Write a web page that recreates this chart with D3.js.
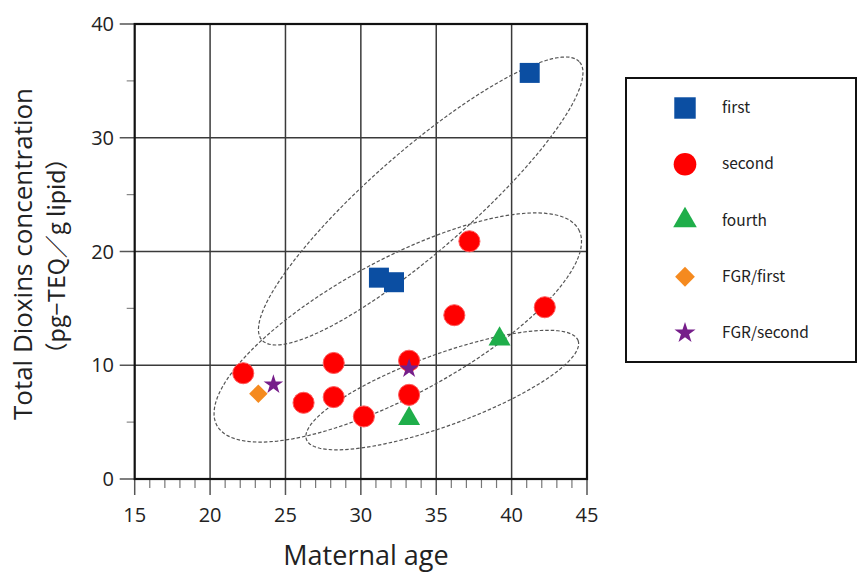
<!DOCTYPE html>
<html>
<head>
<meta charset="utf-8">
<script src="https://cdn.jsdelivr.net/npm/d3@7"></script>
<style>
  body { margin: 0; background: #fff; }
  svg { display: block; }
</style>
</head>
<body>
<div id="chart"></div>
<script>
// parity groups, [maternal age, total dioxins]
const first = [[41.2, 35.7], [31.2, 17.7], [32.2, 17.3]];
const second = [[22.2, 9.3], [26.2, 6.7], [28.2, 10.2], [28.2, 7.2], [30.2, 5.5],
                [33.2, 10.4], [33.2, 7.4], [36.2, 14.4], [37.2, 20.9], [42.2, 15.1]];
const fourth = [[39.2, 12.3], [33.2, 5.3]];
const fgrFirst = [[23.2, 7.5]];
const fgrSecond = [[24.2, 8.3], [33.2, 9.7]];

const seriesNames = ["first", "second", "fourth", "FGR/first", "FGR/second"];
const xTicks = [15, 20, 25, 30, 35, 40, 45];
const yTicks = [0, 10, 20, 30, 40];

// dashed group ellipses: centre, major semi-axis vector (data units), minor/major ratio
const ellipses = [
  {cx: 33.97, cy: 24.44, ax: 10.54, ay: 12.22, ratio: 0.237},
  {cx: 32.45, cy: 13.32, ax: 12.0, ay: 8.61, ratio: 0.329},
  {cx: 35.4, cy: 7.82, ax: 9.01, ay: 4.35, ratio: 0.247}
];

const W = 858, H = 574;
const pL = 134.7, pR = 587, pT = 24, pB = 479;

const svg = d3.select("#chart").append("svg")
    .attr("width", W)
    .attr("height", H);

const x = d3.scaleLinear().domain([15, 45]).range([pL, pR]);
const y = d3.scaleLinear().domain([0, 40]).range([pB, pT]);

const styles = [
  {data: first, type: d3.symbolSquare, size: 400, fill: "#0b4ea2", rot: 0},
  {data: second, type: d3.symbolCircle, size: 350, fill: "#ff0000", rot: 0},
  {data: fourth, type: d3.symbolTriangle, size: 210, fill: "#1fae4a", rot: 0},
  {data: fgrFirst, type: d3.symbolSquare, size: 170, fill: "#f58a1f", rot: 45},
  {data: fgrSecond, type: d3.symbolStar, size: 120, fill: "#761e8a", rot: 0}
];

// grid
svg.append("g").selectAll("line")
  .data(xTicks.slice(1, -1))
  .enter().append("line")
    .attr("x1", d => x(d)).attr("x2", d => x(d))
    .attr("y1", pT).attr("y2", pB)
    .attr("stroke", "#3a3a3a").attr("stroke-width", 1.5);

svg.append("g").selectAll("line")
  .data(yTicks.slice(1, -1))
  .enter().append("line")
    .attr("x1", pL).attr("x2", pR)
    .attr("y1", d => y(d)).attr("y2", d => y(d))
    .attr("stroke", "#3a3a3a").attr("stroke-width", 1.5);

// x axis ticks (major + minor every year)
const xAxis = svg.append("g");
xAxis.selectAll(".minor")
  .data(d3.range(16, 45).filter(d => d % 5 !== 0))
  .enter().append("line")
    .attr("x1", d => x(d)).attr("x2", d => x(d))
    .attr("y1", pB).attr("y2", pB + 9)
    .attr("stroke", "#777").attr("stroke-width", 1.2);
xAxis.selectAll(".major")
  .data(xTicks)
  .enter().append("line")
    .attr("x1", d => x(d)).attr("x2", d => x(d))
    .attr("y1", pB).attr("y2", pB + 16)
    .attr("stroke", "#555").attr("stroke-width", 1.5);
xAxis.selectAll("text")
  .data(xTicks)
  .enter().append("text")
    .attr("x", d => x(d))
    .attr("y", 522)
    .attr("text-anchor", "middle")
    .attr("font-family", "Open Sans, sans-serif")
    .attr("font-size", 20)
    .attr("fill", "#222")
    .text(d => d);

// y axis ticks
const yAxis = svg.append("g");
yAxis.selectAll(".minor")
  .data([5, 15, 25, 35])
  .enter().append("line")
    .attr("x1", pL - 8).attr("x2", pL)
    .attr("y1", d => y(d)).attr("y2", d => y(d))
    .attr("stroke", "#888").attr("stroke-width", 1.2);
yAxis.selectAll(".major")
  .data(yTicks)
  .enter().append("line")
    .attr("x1", pL - 15).attr("x2", pL)
    .attr("y1", d => y(d)).attr("y2", d => y(d))
    .attr("stroke", "#555").attr("stroke-width", 1.5);
yAxis.selectAll("text")
  .data(yTicks)
  .enter().append("text")
    .attr("x", 114)
    .attr("y", d => y(d) + 7)
    .attr("text-anchor", "end")
    .attr("font-family", "Open Sans, sans-serif")
    .attr("font-size", 20)
    .attr("fill", "#222")
    .text(d => d);

// plot frame
svg.append("rect")
    .attr("x", pL).attr("y", pT)
    .attr("width", pR - pL).attr("height", pB - pT)
    .attr("fill", "none")
    .attr("stroke", "#111").attr("stroke-width", 2.2);

// ellipses
const ellipsePath = e => {
  const c = [x(e.cx), y(e.cy)];
  const a = [x(e.cx + e.ax) - c[0], y(e.cy + e.ay) - c[1]];
  const b = [-a[1] * e.ratio, a[0] * e.ratio];
  const pts = d3.range(0, 361, 3).map(t => {
    const r = t * Math.PI / 180;
    return [c[0] + Math.cos(r) * a[0] + Math.sin(r) * b[0],
            c[1] + Math.cos(r) * a[1] + Math.sin(r) * b[1]];
  });
  return d3.line()(pts) + "Z";
};

svg.append("g").selectAll("path")
  .data(ellipses)
  .enter().append("path")
    .attr("d", ellipsePath)
    .attr("fill", "none")
    .attr("stroke", "#555")
    .attr("stroke-width", 1.2)
    .attr("stroke-dasharray", "3.5,2");

// points
styles.forEach(s => {
  svg.append("g").selectAll("path")
    .data(s.data)
    .enter().append("path")
      .attr("d", d3.symbol().type(s.type).size(s.size))
      .attr("transform", d => `translate(${x(d[0])},${y(d[1])}) rotate(${s.rot})`)
      .attr("fill", s.fill)
      .attr("stroke", s.fill === "#ff0000" ? "#ff5a5a" : "none")
      .attr("stroke-width", 1);
});

// axis titles
svg.append("text")
    .attr("x", 366).attr("y", 565)
    .attr("text-anchor", "middle")
    .attr("font-family", "Open Sans, sans-serif")
    .attr("font-size", 27)
    .attr("fill", "#222")
    .text("Maternal age");

svg.append("text")
    .attr("transform", "translate(32,254) rotate(-90)")
    .attr("text-anchor", "middle")
    .attr("font-family", "Open Sans, sans-serif")
    .attr("font-size", 26)
    .attr("fill", "#222")
    .text("Total Dioxins concentration");

svg.append("text")
    .attr("transform", "translate(65,256) rotate(-90)")
    .attr("text-anchor", "middle")
    .attr("font-family", "Noto Sans CJK JP, sans-serif")
    .attr("font-size", 23)
    .attr("fill", "#222")
    .text("（pg−TEQ／g lipid）");

// legend
const legend = svg.append("g");
legend.append("rect")
    .attr("x", 626).attr("y", 78)
    .attr("width", 230).attr("height", 284)
    .attr("fill", "#fff")
    .attr("stroke", "#111").attr("stroke-width", 2);

const ly = d3.scalePoint().domain(seriesNames).range([108, 333]);

seriesNames.forEach((name, i) => {
  const s = styles[i];
  legend.append("path")
      .attr("d", d3.symbol().type(s.type).size(s.size * 1.15)())
      .attr("transform", `translate(685,${ly(name)}) rotate(${s.rot})`)
      .attr("fill", s.fill);
  legend.append("text")
      .attr("x", 722).attr("y", ly(name) + 5)
      .attr("font-family", "Noto Sans CJK JP, sans-serif")
      .attr("font-size", 15.5)
      .attr("fill", "#222")
      .text(name);
});
</script>
</body>
</html>
